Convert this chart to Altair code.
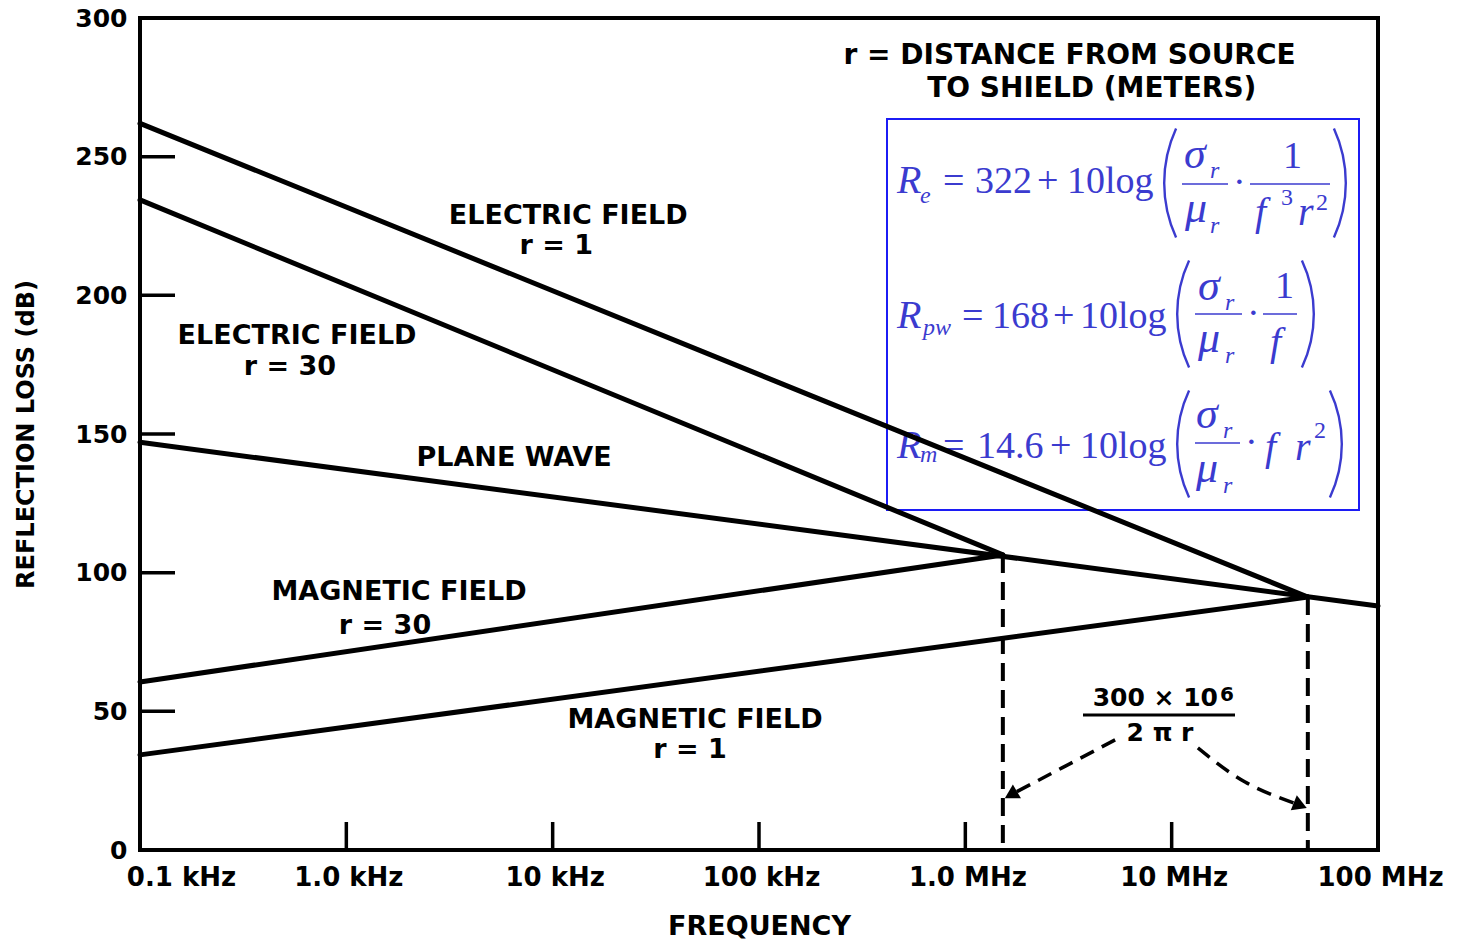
import math
import altair as alt
import pandas as pd

# ---------------- data ----------------
series_names = ["ELECTRIC FIELD r=1", "ELECTRIC FIELD r=30", "PLANE WAVE",
                "MAGNETIC FIELD r=30", "MAGNETIC FIELD r=1"]
freq_start = [1e2, 1e2, 1e2, 1e2, 1e2]
db_start = [262.0, 234.4, 147.0, 60.6, 34.3]
freq_end = [4.57e7, 1.52e6, 1.0e8, 1.52e6, 4.57e7]
db_end = [91.2, 106.4, 88.0, 106.4, 91.2]

transition_freq = [1.52e6, 4.57e7]
transition_db = [106.4, 91.2]

x_tick_values = [1e2, 1e3, 1e4, 1e5, 1e6, 1e7, 1e8]
x_tick_labels = ["0.1 kHz", "1.0 kHz", "10 kHz", "100 kHz", "1.0 MHz", "10 MHz", "100 MHz"]
x_inner_ticks = [1e3, 1e4, 1e5, 1e6, 1e7]
y_tick_values = [0, 50, 100, 150, 200, 250, 300]
y_inner_ticks = [50, 100, 150, 200, 250]

label_text = ["ELECTRIC FIELD", "r = 1", "ELECTRIC FIELD", "r = 30", "PLANE WAVE",
              "MAGNETIC FIELD", "r = 30", "MAGNETIC FIELD", "r = 1"]
label_freq = [1.19e4, 1.04e4, 577, 533, 6.5e3, 1.8e3, 1.54e3, 4.9e4, 4.63e4]
label_db = [228.6, 217.8, 185.3, 174.2, 141.4, 93.0, 80.8, 46.9, 36.1]

note_text = ["r = DISTANCE FROM SOURCE", "TO SHIELD (METERS)"]
note_freq = [3.2e6, 4.1e6]
note_db = [286.3, 274.4]

# dashed curved arrows (frequency, dB)
arrow_left_freq = [5.32e6, 2.94e6, 1.70e6]
arrow_left_db = [39.7, 29.6, 20.3]
arrow_right_freq = [1.34e7, 2.27e7, 4.1e7]
arrow_right_db = [36.8, 24.5, 16.4]

# ---------------- layout ----------------
W, H = 1238, 832
OX, OY = 140, 18
BLUE_TXT = "#3b3bcf"
BLUE_BOX = "#1c1cf5"
SANS = "DejaVu Sans"
SERIF = "Liberation Serif"

x_scale = alt.Scale(type="log", domain=[1e2, 1e8], nice=False)
y_scale = alt.Scale(domain=[0, 300], nice=False, zero=False)

rows = []
for name, f0, d0, f1, d1 in zip(series_names, freq_start, db_start, freq_end, db_end):
    rows.append({"series": name, "freq": f0, "db": d0, "o": 0})
    rows.append({"series": name, "freq": f1, "db": d1, "o": 1})
lines_df = pd.DataFrame(rows)

label_map = "{" + ",".join(f"'{int(v)}':'{t}'" for v, t in zip(x_tick_values, x_tick_labels)) + "}"

x_axis = alt.Axis(
    values=x_tick_values, labelExpr=f"{label_map}[datum.value]",
    title="FREQUENCY", ticks=False, domain=False, grid=False,
    labelFont=SANS, labelFontWeight="bold", labelFontSize=26, labelColor="black",
    labelPadding=14, labelFlush=False, labelOverlap=False,
    labelOffset={"condition": {"test": "datum.value == 100", "value": 41}, "value": 2},
    titleFont=SANS, titleFontWeight="bold", titleFontSize=27, titleColor="black",
    titleY=76, titleBaseline="middle",
)
y_axis = alt.Axis(
    values=y_tick_values, title="REFLECTION LOSS (dB)", ticks=False, domain=False, grid=False,
    labelFont=SANS, labelFontWeight="bold", labelFontSize=25, labelColor="black",
    labelPadding=13, labelFlush=False, labelOverlap=False,
    titleFont=SANS, titleFontWeight="bold", titleFontSize=24, titleColor="black",
    titleX=-114, titleY=H / 2, titleAngle=270, titleAlign="center", titleBaseline="middle",
)

lines = alt.Chart(lines_df).mark_line(color="black", strokeWidth=5, strokeCap="round").encode(
    x=alt.X("freq:Q", scale=x_scale, axis=x_axis),
    y=alt.Y("db:Q", scale=y_scale, axis=y_axis),
    detail="series:N", order="o:Q",
)

yticks = alt.Chart(pd.DataFrame({"db": y_inner_ticks})).mark_rule(color="black", strokeWidth=3.5).encode(
    y=alt.Y("db:Q", scale=y_scale), x=alt.value(0), x2=alt.value(35))
xticks = alt.Chart(pd.DataFrame({"freq": x_inner_ticks})).mark_rule(color="black", strokeWidth=3.5).encode(
    x=alt.X("freq:Q", scale=x_scale), y=alt.value(H), y2=alt.value(H - 28))

dashed = alt.Chart(pd.DataFrame({"freq": transition_freq, "db": transition_db})).mark_rule(
    color="black", strokeWidth=4, strokeDash=[18, 9]).encode(
    x=alt.X("freq:Q", scale=x_scale), y=alt.Y("db:Q", scale=y_scale), y2=alt.value(H))

arr_rows = []
for i, (f, d) in enumerate(zip(arrow_left_freq, arrow_left_db)):
    arr_rows.append({"a": "L", "o": i, "freq": f, "db": d})
for i, (f, d) in enumerate(zip(arrow_right_freq, arrow_right_db)):
    arr_rows.append({"a": "R", "o": i, "freq": f, "db": d})
arrows = alt.Chart(pd.DataFrame(arr_rows)).mark_line(
    color="black", strokeWidth=3.5, strokeDash=[15, 9], interpolate="natural").encode(
    x=alt.X("freq:Q", scale=x_scale), y=alt.Y("db:Q", scale=y_scale), detail="a:N", order="o:Q")

head_l = alt.Chart(pd.DataFrame({"freq": [arrow_left_freq[-1]], "db": [arrow_left_db[-1]]})).mark_point(
    shape="triangle", filled=True, color="black", size=260, opacity=1).encode(
    x=alt.X("freq:Q", scale=x_scale), y=alt.Y("db:Q", scale=y_scale), angle=alt.value(240))
head_r = alt.Chart(pd.DataFrame({"freq": [arrow_right_freq[-1]], "db": [arrow_right_db[-1]]})).mark_point(
    shape="triangle", filled=True, color="black", size=260, opacity=1).encode(
    x=alt.X("freq:Q", scale=x_scale), y=alt.Y("db:Q", scale=y_scale), angle=alt.value(112))

labels = alt.Chart(pd.DataFrame({"t": label_text, "freq": label_freq, "db": label_db})).mark_text(
    font=SANS, fontWeight="bold", fontSize=27, color="black", align="center", baseline="middle").encode(
    x=alt.X("freq:Q", scale=x_scale), y=alt.Y("db:Q", scale=y_scale), text="t:N")
notes = alt.Chart(pd.DataFrame({"t": note_text, "freq": note_freq, "db": note_db})).mark_text(
    font=SANS, fontWeight="bold", fontSize=28, color="black", align="center", baseline="middle").encode(
    x=alt.X("freq:Q", scale=x_scale), y=alt.Y("db:Q", scale=y_scale), text="t:N")


# ---- pixel-positioned annotation helpers (image coords -> plot coords) ----
def pix_text(pieces, font, size, style, color, weight="normal", align="left"):
    df = pd.DataFrame({"t": [p[0] for p in pieces],
                       "px": [p[1] - OX for p in pieces],
                       "py": [p[2] - OY for p in pieces]})
    return alt.Chart(df).mark_text(font=font, fontSize=size, fontStyle=style, fontWeight=weight,
                                   color=color, align=align, baseline="alphabetic").encode(
        x=alt.X("px:Q", scale=None, axis=None), y=alt.Y("py:Q", scale=None, axis=None), text="t:N")


def pix_rules(segs, color, width):
    df = pd.DataFrame({"x1": [s[0] - OX for s in segs], "x2": [s[1] - OX for s in segs],
                       "y": [s[2] - OY for s in segs]})
    return alt.Chart(df).mark_rule(color=color, strokeWidth=width).encode(
        x=alt.X("x1:Q", scale=None, axis=None), x2="x2:Q", y=alt.Y("y:Q", scale=None, axis=None))


def paren(x_outer, y_top, y_bot, side, color):
    h = y_bot - y_top
    s = 12.0
    R = (h * h / 4 + s * s) / (2 * s)
    a = math.asin((h / 2) / R)
    cy = (y_top + y_bot) / 2 - OY
    if side == "L":
        cx = x_outer + R - OX
        t0, t1 = 1.5 * math.pi - a, 1.5 * math.pi + a
    else:
        cx = x_outer - R - OX
        t0, t1 = 0.5 * math.pi - a, 0.5 * math.pi + a
    return alt.Chart(alt.Data(values=[{"k": 1}])).mark_arc(
        color=color, radius=R, radius2=R - 2.4, theta=t0, theta2=t1).encode(
        x=alt.value(cx), y=alt.value(cy))


formula_upright = [("=", 943, 193), ("322", 975, 193), ("+", 1037, 193), ("10log", 1067, 193), ("1", 1283, 168),
                   ("=", 962, 328), ("168", 992, 328), ("+", 1053, 328), ("10log", 1080, 328), ("1", 1275, 298),
                   ("=", 943, 458), ("14.6", 977, 458), ("+", 1050, 458), ("10log", 1080, 458),
                   ("·", 1233, 194), ("·", 1247, 325), ("·", 1245, 454)]
formula_upright_small = [("3", 1281, 205), ("2", 1316, 210), ("2", 1314, 438)]
formula_greek = [("σ", 1184, 168), ("μ", 1185, 222),
                 ("σ", 1198, 300), ("μ", 1198, 352),
                 ("σ", 1196, 428), ("μ", 1196, 482)]
formula_italic = [("R", 897, 193), ("f", 1255, 225), ("r", 1298, 225),
                  ("R", 897, 328), ("f", 1270, 355),
                  ("R", 897, 458), ("f", 1265, 460), ("r", 1295, 460)]
formula_italic_small = [("e", 920, 203), ("r", 1210, 178), ("r", 1210, 233),
                        ("pw", 923, 335), ("r", 1225, 310), ("r", 1225, 363),
                        ("m", 920, 462), ("r", 1223, 438), ("r", 1223, 493)]
formula_bars = [(1182, 1228, 184), (1250, 1330, 184), (1195, 1242, 314), (1263, 1297, 314), (1195, 1240, 443)]

box = alt.Chart(alt.Data(values=[{"k": 1}])).mark_rect(
    stroke=BLUE_BOX, strokeWidth=2, fillOpacity=0, color=BLUE_BOX).encode(
    x=alt.value(887 - OX), x2=alt.value(1359 - OX), y=alt.value(119 - OY), y2=alt.value(510 - OY))

formula_layers = [
    box,
    pix_text(formula_upright, SERIF, 38, "normal", BLUE_TXT),
    pix_text(formula_upright_small, SERIF, 24, "normal", BLUE_TXT),
    pix_text(formula_greek, SERIF, 44, "italic", BLUE_TXT),
    pix_text(formula_italic, SERIF, 40, "italic", BLUE_TXT),
    pix_text(formula_italic_small, SERIF, 24, "italic", BLUE_TXT),
    pix_rules(formula_bars, BLUE_TXT, 1.6),
    paren(1163, 128, 238, "L", BLUE_TXT), paren(1347, 128, 238, "R", BLUE_TXT),
    paren(1176, 260, 368, "L", BLUE_TXT), paren(1315, 260, 368, "R", BLUE_TXT),
    paren(1176, 390, 498, "L", BLUE_TXT), paren(1343, 390, 498, "R", BLUE_TXT),
]

# "300 x 10^6 / 2 pi r" annotation
frac_layers = [
    pix_text([("300 × 10", 1218, 706)], SANS, 25, "normal", "black", weight="bold", align="right"),
    pix_text([("6", 1220, 701)], SANS, 20, "normal", "black", weight="bold"),
    pix_rules([(1083, 1235, 715)], "black", 3),
    pix_text([("2 π r", 1160, 741)], SANS, 25, "normal", "black", weight="bold", align="center"),
]

chart = alt.layer(
    *formula_layers, lines, yticks, xticks, dashed, arrows, head_l, head_r, labels, notes, *frac_layers
).properties(
    width=W, height=H,
    autosize=alt.AutoSizeParams(type="none"),
    padding={"left": OX, "top": OY, "right": 1464 - OX - W, "bottom": 943 - OY - H},
    background="white",
).configure_view(stroke="black", strokeWidth=4)

chart.save("out.html", embed_options={"renderer": "svg", "actions": False})
